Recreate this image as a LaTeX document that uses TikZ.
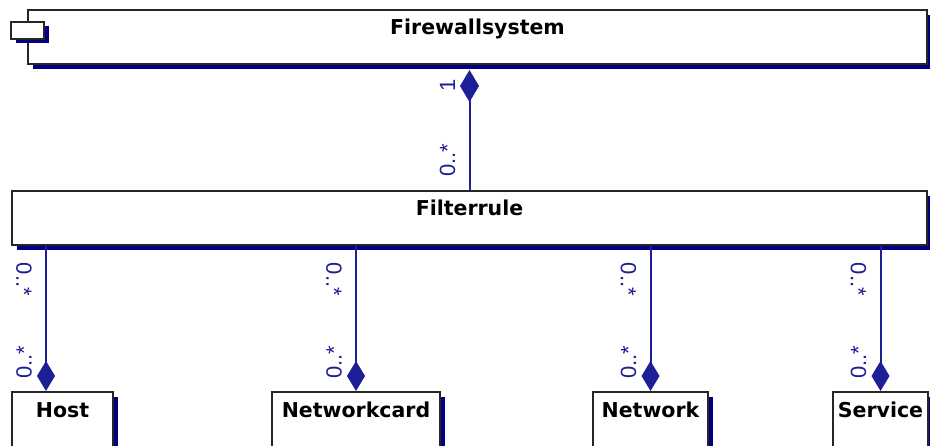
\documentclass[tikz,border=0pt]{standalone}
\usepackage{fontspec}
\newfontfamily\umlfont{DejaVu Sans}
\newfontfamily\multfont{Liberation Sans}
\usetikzlibrary{arrows.meta,shadows}
\definecolor{umlnavy}{RGB}{0,0,128}
\definecolor{umlline}{RGB}{30,30,150}

\tikzset{
    umlclass/.style={draw=black!85, line width=2pt, fill=white, inner sep=0pt,
        text height=14pt, text depth=18pt,
        font=\umlfont\bfseries\fontsize{20.5}{22}\selectfont,
        drop shadow={shadow xshift=5pt, shadow yshift=-5pt, fill=umlnavy, opacity=1}},
    compicon/.style={draw=black!85, line width=2pt, fill=white, inner sep=0pt,
        minimum width=33pt, minimum height=17pt,
        drop shadow={shadow xshift=5pt, shadow yshift=-4pt, fill=umlnavy, opacity=1}},
    link/.style={draw=umlline, line width=2pt},
    multsrc/.style={text=umlline, inner sep=0pt, xshift=-22pt, rotate=-90,
        font=\multfont\fontsize{22}{24}\selectfont},
    multdst/.style={text=umlline, inner sep=0pt, xshift=-22pt, rotate=90,
        font=\multfont\fontsize{22}{24}\selectfont}
}

\begin{document}
\begin{tikzpicture}[x=1pt, y=-1pt]
    \useasboundingbox (0,0) rectangle (930,446);

    % Nodes
    \node[umlclass, minimum width=899pt, minimum height=54pt] (fws) at (477.5,37) {Firewallsystem};
    \node[compicon] (fwsicon) at (27.5,30.5) {};
    \node[umlclass, minimum width=915pt, minimum height=54pt] (filter) at (469.5,218) {Filterrule};
    \node[umlclass, minimum width=101pt, minimum height=56pt] (host) at (62.5,420) {Host};
    \node[umlclass, minimum width=168pt, minimum height=56pt] (nic) at (356,420) {Networkcard};
    \node[umlclass, minimum width=115pt, minimum height=56pt] (net) at (650.5,420) {Network};
    \node[umlclass, minimum width=95pt, minimum height=56pt] (svc) at (880.5,420) {Service};

    \coordinate (fwsfoot) at ([yshift=-5pt]fws.south);
    \coordinate (hostjoin) at ([xshift=-16.5pt]host.north);

    % Edges
    \draw[link, {Diamond[length=32pt,width=19pt]}-] (fwsfoot -| filter.north)
        -- node[multdst, pos=0.14, xshift=1pt] {1} node[multdst, pos=0.75] {0..*} (filter.north);
    \draw[link, -{Diamond[length=30pt,width=18pt]}] (hostjoin |- filter.south)
        -- node[multsrc, pos=0.23] {0..*} node[multdst, pos=0.8] {0..*} (hostjoin);
    \draw[link, -{Diamond[length=30pt,width=18pt]}] (nic.north |- filter.south)
        -- node[multsrc, pos=0.23] {0..*} node[multdst, pos=0.8] {0..*} (nic.north);
    \draw[link, -{Diamond[length=30pt,width=18pt]}] (net.north |- filter.south)
        -- node[multsrc, pos=0.23] {0..*} node[multdst, pos=0.8] {0..*} (net.north);
    \draw[link, -{Diamond[length=30pt,width=18pt]}] (svc.north |- filter.south)
        -- node[multsrc, pos=0.23] {0..*} node[multdst, pos=0.8] {0..*} (svc.north);
\end{tikzpicture}
\end{document}
